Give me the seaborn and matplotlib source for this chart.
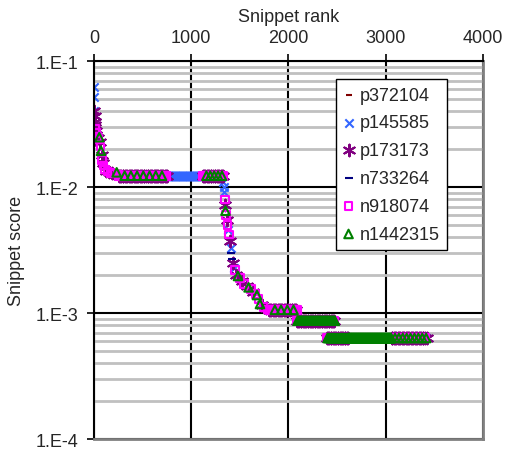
import numpy as np
import pandas as pd
import seaborn as sns
import matplotlib.pyplot as plt
from matplotlib.ticker import LogLocator, NullFormatter

sns.set_style('white')
plt.rcParams['font.family'] = ['Liberation Sans', 'DejaVu Sans']

series_names = ['p372104', 'p145585', 'p173173', 'n733264', 'n918074', 'n1442315']
series_colors = ['#800000', '#3366FF', '#800080', '#000080', '#FF00FF', '#008000']
series_markers = ['_', 'x', (6, 2, 0), '_', 's', '^']
series_sizes = [20, 36, 70, 28, 30, 38]
series_open = [False, False, False, False, True, True]

# sloped parts of the curve: rank, score and which run the snippet belongs to
curve_rank = [1, 2, 3, 4, 6, 8, 10, 13, 16, 20, 25, 30, 36, 42, 48, 54, 60, 66,
              72, 78, 84, 90, 96, 105, 115, 125, 140, 155, 170, 190, 210, 233, 250,
              1330, 1335, 1340, 1345, 1348, 1352, 1358, 1365, 1372, 1380, 1390,
              1398, 1405, 1412, 1420, 1428, 1438, 1450, 1465, 1481, 1500, 1520,
              1545, 1570, 1590, 1615, 1640, 1660, 1676, 1690, 1707, 1725, 1745,
              1770, 1790]
curve_score = [0.062, 0.0515, 0.0403, 0.0400, 0.0368, 0.033, 0.031, 0.029, 0.028,
               0.027, 0.026, 0.0255, 0.0250, 0.0245, 0.0240, 0.0249, 0.0230, 0.0210,
               0.0194, 0.0180, 0.0165, 0.0155, 0.0148, 0.0142, 0.0138, 0.0135,
               0.0133, 0.0131, 0.0130, 0.0129, 0.0128, 0.0131, 0.0126,
               0.0110, 0.0100, 0.0091, 0.0080, 0.0072, 0.0065, 0.0060, 0.0055,
               0.0050, 0.0046, 0.0042, 0.0037, 0.0033, 0.0030, 0.0027, 0.0025,
               0.0023, 0.0022, 0.0020, 0.00197, 0.0019, 0.0018, 0.0017, 0.00165,
               0.0016, 0.00155, 0.00148, 0.00142, 0.00139, 0.0013, 0.00118,
               0.00115, 0.00112, 0.00109, 0.00107]
curve_series = ['p145585', 'p145585', 'p173173', 'p145585', 'p173173', 'p173173',
                'p173173', 'n918074', 'p173173', 'n918074', 'p173173', 'n733264',
                'n918074', 'p173173', 'n918074', 'n1442315', 'p173173', 'n918074',
                'n1442315', 'p173173', 'n918074', 'p173173', 'n918074', 'p372104',
                'n918074', 'p173173', 'n918074', 'p173173', 'n918074', 'p173173',
                'n918074', 'n1442315', 'n918074',
                'p145585', 'p145585', 'p145585', 'n918074', 'p173173', 'n1442315',
                'n918074', 'p173173', 'n918074', 'p145585', 'n918074', 'p173173',
                'p145585', 'n733264', 'n733264', 'p173173', 'p145585', 'n918074',
                'p173173', 'n1442315', 'n918074', 'p173173', 'n918074', 'p173173',
                'n1442315', 'n918074', 'p173173', 'n918074', 'n1442315', 'n918074',
                'n1442315', 'p173173', 'n918074', 'p173173', 'n918074']

# flat runs of equal score
plateau_start = [255, 752, 1120, 1800, 2085, 2393, 2620, 3060]
plateau_end = [752, 1120, 1330, 2095, 2478, 2620, 3060, 3421]
plateau_score = [0.0123, 0.0123, 0.0123, 0.00106, 0.00087, 0.000634, 0.000634, 0.000634]
mix_a = ['p173173', 'n918074', 'p173173', 'n918074', 'n733264', 'n918074',
         'p173173', 'n918074', 'p372104', 'n918074', 'p173173', 'n918074',
         'p173173', 'n918074', 'n733264', 'n1442315']
mix_b = ['p173173', 'n918074', 'p173173', 'n918074', 'n733264', 'n918074',
         'p173173', 'n918074', 'p145585', 'n1442315']
mix_c = ['p173173', 'n918074', 'n1442315', 'n918074', 'p173173', 'n1442315']
plateau_members = [mix_a, ['p145585'], mix_b, mix_a, mix_c, mix_c, ['n1442315'], mix_b]
step = 4

rows = []
for r, s, n in zip(curve_rank, curve_score, curve_series):
    rows.append((r, s, n))
for a, b, s, mem in zip(plateau_start, plateau_end, plateau_score, plateau_members):
    for i, r in enumerate(range(a, b, step)):
        rows.append((r, s, mem[i % len(mem)]))
df = pd.DataFrame(rows, columns=['rank', 'score', 'series'])

fig = plt.figure(figsize=(5.11, 4.52), dpi=100)
ax = fig.add_axes([0.184, 0.0265, 0.761, 0.836])

for name, col, mk, sz, op in zip(series_names, series_colors, series_markers,
                                 series_sizes, series_open):
    d = df[df['series'] == name]
    if op:
        sns.scatterplot(x='rank', y='score', data=d, ax=ax, marker=mk, s=sz,
                        facecolor='none', edgecolor=col, linewidth=1.5, label=name)
    else:
        sns.scatterplot(x='rank', y='score', data=d, ax=ax, marker=mk, s=sz,
                        color=col, linewidth=1.5, label=name)

ax.set_yscale('log')
ax.set_xlim(0, 4000)
ax.set_ylim(1e-4, 1e-1)
ax.xaxis.tick_top()
ax.xaxis.set_label_position('top')
ax.set_xticks([0, 1000, 2000, 3000, 4000])
ax.set_yticks([1e-4, 1e-3, 1e-2, 1e-1])
ax.set_yticklabels(['1.E-4', '1.E-3', '1.E-2', '1.E-1'])
ax.yaxis.set_minor_locator(LogLocator(base=10, subs=range(2, 10)))
ax.yaxis.set_minor_formatter(NullFormatter())
ax.tick_params(axis='y', which='minor', length=0)
ax.tick_params(axis='both', which='major', labelsize=13, direction='out',
               length=5, width=1.2, color='black', pad=6)
ax.tick_params(axis='x', top=True, bottom=False)
ax.tick_params(axis='y', left=True)
ax.grid(which='major', axis='both', color='black', linewidth=1.5)
ax.grid(which='minor', axis='y', color='#C0C0C0', linewidth=2)
ax.set_axisbelow(True)

ax.set_xlabel('Snippet rank', fontsize=13, labelpad=6)
ax.set_ylabel('Snippet score', fontsize=13, labelpad=8)

for side in ['top', 'left']:
    ax.spines[side].set_color('black')
    ax.spines[side].set_linewidth(1.5)
for side in ['right', 'bottom']:
    ax.spines[side].set_color('#808080')
    ax.spines[side].set_linewidth(2)

leg = ax.legend(loc='upper left', bbox_to_anchor=(0.622, 0.952), fontsize=13,
                frameon=True, fancybox=False, edgecolor='black', framealpha=1,
                handlelength=0.6, handletextpad=0.3, labelspacing=0.6,
                borderpad=0.4, borderaxespad=0)
leg.get_frame().set_linewidth(1)

fig.savefig('out.png', dpi=100)
